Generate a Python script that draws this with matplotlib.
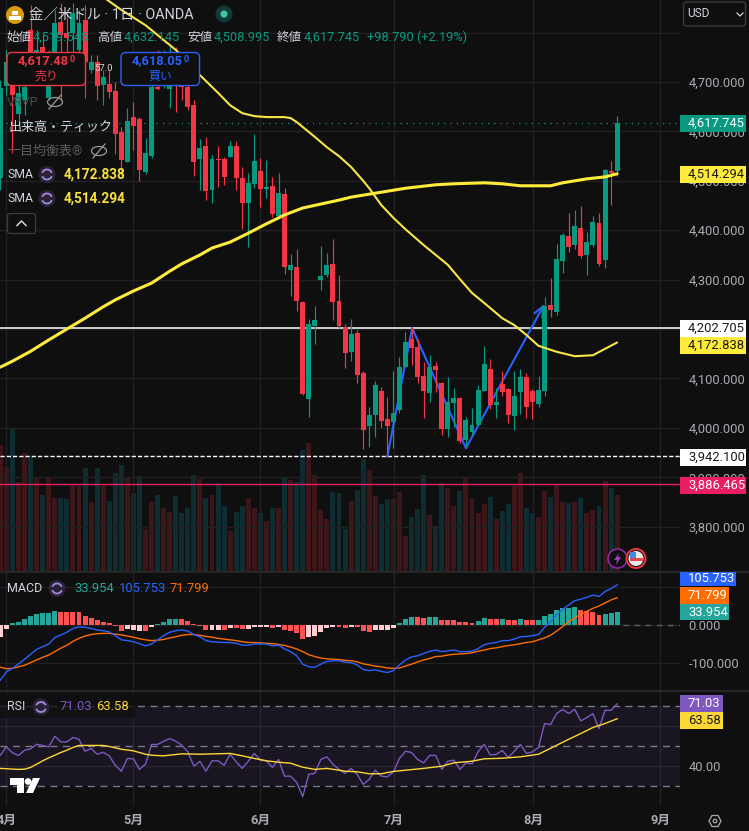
"""Gold / USD daily chart (OANDA): candles, volume, SMAs, MACD and RSI panels."""

import matplotlib

matplotlib.use("Agg")

import matplotlib.pyplot as plt
from matplotlib.patches import Arc, Circle, Ellipse, FancyBboxPatch, Polygon, Rectangle

plt.rcParams["font.family"] = ["Roboto", "Noto Sans CJK JP", "DejaVu Sans"]

# Candles, oldest first.
opens = [4506, 4692, 4694, 4635, 4664, 4805, 4714, 4771, 4668, 4755, 4821, 4799, 4799, 4765, 4826, 4724,
         4741, 4694, 4696, 4682, 4599, 4538, 4629, 4625, 4518, 4550, 4690, 4694, 4686, 4741, 4724, 4690,
         4653, 4544, 4570, 4481, 4544, 4544, 4548, 4570, 4506, 4455, 4494, 4520, 4483, 4490, 4429, 4473,
         4320, 4326, 4255, 4058, 4206, 4299, 4309, 4332, 4257, 4204, 4154, 4192, 4111, 4004, 4026, 4075,
         4018, 4012, 4036, 4123, 4180, 4164, 4105, 4071, 4125, 4091, 3998, 4050, 4060, 3975, 3992, 4006,
         4075, 4119, 4046, 4089, 4079, 4024, 4073, 4103, 4075, 4048, 4075, 4249, 4235, 4338, 4388, 4370,
         4405, 4350, 4370, 4415, 4340, 4520, 4519.545]
highs = [4704, 4765, 4745, 4714, 4745, 4856, 4805, 4795, 4765, 4846, 4860, 4846, 4860, 4846, 4856, 4755,
         4755, 4724, 4724, 4700, 4609, 4647, 4660, 4629, 4587, 4710, 4765, 4765, 4775, 4771, 4755, 4724,
         4664, 4585, 4589, 4552, 4570, 4548, 4581, 4581, 4528, 4516, 4595, 4546, 4542, 4508, 4516, 4485,
         4352, 4362, 4257, 4220, 4247, 4368, 4354, 4382, 4309, 4210, 4220, 4198, 4115, 4042, 4095, 4083,
         4062, 4115, 4143, 4194, 4202, 4180, 4133, 4147, 4133, 4093, 4103, 4081, 4062, 4022, 4040, 4087,
         4166, 4139, 4081, 4115, 4081, 4115, 4119, 4111, 4079, 4105, 4265, 4303, 4372, 4394, 4435, 4441,
         4449, 4396, 4429, 4435, 4524, 4540, 4632.145]
lows = [4481, 4674, 4556, 4609, 4633, 4694, 4694, 4704, 4664, 4745, 4664, 4745, 4734, 4724, 4668, 4718,
        4664, 4653, 4668, 4554, 4512, 4538, 4562, 4500, 4514, 4546, 4684, 4688, 4647, 4639, 4664, 4643,
        4510, 4481, 4461, 4455, 4488, 4492, 4548, 4481, 4402, 4366, 4485, 4447, 4465, 4427, 4425, 4311,
        4267, 4237, 4067, 4022, 4170, 4279, 4305, 4218, 4202, 4121, 4135, 4091, 3957, 3961, 3982, 4000,
        3941, 3959, 4030, 4121, 4127, 4091, 4020, 4052, 4073, 3986, 3982, 4002, 3969, 3961, 3986, 4006,
        4075, 4038, 4020, 4064, 4010, 3996, 4028, 4020, 4018, 4042, 4064, 4224, 4228, 4313, 4356, 4362,
        4344, 4309, 4366, 4328, 4324, 4451, 4508.995]
closes = [4688, 4740, 4674, 4678, 4690, 4755, 4765, 4724, 4745, 4819, 4795, 4789, 4840, 4819, 4741, 4741,
          4692, 4710, 4680, 4595, 4542, 4621, 4611, 4522, 4556, 4690, 4686, 4724, 4734, 4704, 4690, 4649,
          4538, 4566, 4479, 4544, 4542, 4508, 4570, 4506, 4455, 4496, 4540, 4483, 4488, 4433, 4475, 4326,
          4330, 4257, 4069, 4210, 4218, 4307, 4330, 4255, 4206, 4152, 4190, 4107, 3996, 4026, 4087, 4014,
          4004, 4030, 4123, 4174, 4162, 4103, 4075, 4123, 4117, 3998, 4052, 4060, 3973, 4016, 4006, 4077,
          4129, 4046, 4052, 4073, 4026, 4064, 4103, 4042, 4052, 4077, 4247, 4239, 4342, 4390, 4366, 4409,
          4348, 4376, 4417, 4332, 4522, 4516, 4617.745]

# Tick volume, no scale is shown in the picture so the unit is arbitrary.
volumes = [126, 104, 143, 89, 118, 114, 93, 76, 93, 73, 73, 72, 87, 85, 103, 69, 103, 85, 70, 98, 106, 94,
           78, 95, 42, 69, 76, 63, 59, 75, 58, 63, 96, 92, 73, 76, 88, 65, 40, 59, 65, 73, 63, 58, 50, 63,
           63, 93, 91, 89, 121, 128, 96, 61, 52, 79, 78, 42, 70, 81, 112, 101, 75, 67, 72, 72, 79, 35, 54,
           62, 96, 56, 45, 88, 83, 65, 80, 93, 73, 58, 67, 74, 52, 60, 67, 85, 98, 63, 58, 54, 80, 74, 87,
           69, 68, 69, 73, 58, 61, 65, 90, 83, 76]

sma_slow_x = [0, 2, 5, 8, 11, 14, 17, 19, 22, 25, 28, 30, 33, 35, 38, 41, 44, 47, 50, 53, 56, 58, 62, 67, 72, 75,
              80, 83, 86, 91, 93, 97, 100, 102]
sma_slow = [4123, 4135, 4155, 4178, 4200, 4222, 4245, 4259, 4277, 4293, 4317, 4332, 4350, 4364, 4376, 4394, 4413,
            4431, 4445, 4453, 4461, 4467, 4475, 4485, 4492, 4494, 4496, 4494, 4490, 4490, 4496, 4504, 4508, 4514.294]
sma_fast_x = [17, 20, 24, 27, 29, 31, 33, 36, 38, 40, 42, 44, 46, 47, 48, 49, 52, 54, 56, 58, 60, 61, 63, 65, 67,
              70, 72, 74, 76, 78, 80, 83, 85, 87, 89, 92, 95, 98, 100, 102]
sma_fast = [4872, 4846, 4815, 4785, 4765, 4741, 4714, 4678, 4653, 4637, 4631, 4629, 4629, 4629, 4627, 4619, 4589,
            4568, 4550, 4528, 4500, 4485, 4451, 4425, 4402, 4370, 4350, 4330, 4301, 4273, 4253, 4222, 4208, 4188,
            4166, 4154, 4145, 4147, 4160, 4172.838]

# Hand drawn blue path and horizontal levels.
path_x = [64, 68.1, 77]
path_y = [3942, 4202, 3959]
arrow_end = (90, 4251)
level_solid = 4202.705
level_dashed = 3942.1
level_pink = 3886.465
last_price = 4617.745

macd_hist = [-31, -10, 4, 9, 16, 24, 29, 31, 32, 37, 35, 35, 34, 34, 24, 18, 13, 8, 6, -2, -15, -10, -13, -15,
             -16, -4, 3, 9, 16, 16, 16, 11, 3, -2, -13, -13, -13, -13, -9, -9, -10, -10, -4, -4, -5, -8, -4,
             -13, -16, -22, -37, -31, -28, -19, -8, -6, -4, -7, -6, -6, -16, -18, -13, -13, -13, -7, 6, 15,
             21, 21, 18, 21, 21, 13, 13, 13, 8, 8, 5, 11, 18, 16, 16, 16, 13, 13, 16, 13, 13, 13, 24, 29, 39,
             45, 45, 47, 39, 37, 34, 26, 29, 32, 33.954]
# t = rising above zero, c = coral, p = pale (negative and recovering), ten bars per group
hist_kind = list("pptttttttt" "cccccccccc" "cpppcptttt" "cccccppcpc" "cppppcpccc" "cpppppccpc"
                 "ccpppptttc" "cttcccccct" "tcctcctcct" "ttttttcccc" "ttt")
macd_line = [-145, -123, -114, -102, -90, -77, -64, -57, -50, -33, -26, -19, -9, -5, -6, -9, -13, -15, -18, -28,
             -39, -41, -44, -49, -55, -50, -39, -28, -19, -15, -13, -16, -25, -31, -41, -44, -45, -46, -46, -48,
             -53, -53, -50, -50, -50, -55, -53, -63, -70, -81, -103, -110, -111, -103, -96, -94, -94, -98, -99,
             -105, -117, -120, -118, -122, -125, -120, -105, -92, -84, -81, -75, -69, -66, -70, -68, -66, -70,
             -70, -69, -62, -52, -48, -46, -41, -41, -37, -31, -30, -28, -25, -6, 9, 26, 41, 53, 64, 68, 73,
             79, 75, 88, 96, 105.753]
signal_line = [-111, -115, -114, -110, -106, -99, -92, -85, -79, -70, -61, -53, -43, -35, -29, -25, -23, -22, -22,
               -24, -26, -29, -32, -36, -39, -41, -40, -38, -34, -31, -27, -25, -25, -27, -30, -32, -35, -37,
               -39, -41, -44, -46, -46, -47, -48, -49, -51, -54, -58, -63, -70, -78, -83, -87, -89, -90, -91,
               -93, -94, -97, -102, -105, -108, -110, -113, -114, -113, -108, -103, -97, -92, -88, -83, -82,
               -79, -77, -76, -75, -73, -69, -66, -62, -60, -57, -54, -52, -49, -46, -44, -39, -34, -27, -16,
               -4, 9, 19, 28, 36, 44, 50, 58, 66, 71.799]

rsi_line = [45.3, 49.5, 46.5, 45.2, 47.8, 48.5, 50.8, 50.2, 49.5, 54.8, 52, 52, 54.2, 53.3, 47.3, 48.7, 45.8, 46.8,
            45, 40.3, 37.3, 43.7, 43.5, 38.2, 40.8, 50.7, 50.7, 52.3, 53.7, 52.3, 50.3, 47, 39.8, 42.2, 37.3, 42.5,
            42.5, 40.3, 45.8, 42, 38.7, 42.3, 46.2, 42.8, 42.5, 39.2, 43.2, 34.8, 34.8, 31.7, 24.5, 35.8, 36.2,
            43.2, 44.5, 40.8, 38.2, 36.2, 38.7, 35.7, 30.7, 33.2, 37.8, 34.8, 34.5, 37, 43.7, 47.3, 46.7, 43.2,
            41.5, 45.2, 45.2, 38.2, 42.3, 42.8, 38.2, 41.5, 41, 47, 50.8, 45.5, 45.7, 47.7, 44.2, 47.3, 50.7, 46.2,
            47, 49.2, 61.2, 60.7, 66.2, 68.3, 66.2, 68.3, 62.5, 64.2, 66.2, 58.7, 67.8, 67.8, 71.03]
rsi_ma_x = [0, 3, 4, 5, 6, 7, 8, 9, 10, 11, 12, 13, 16, 17, 18, 19, 20, 22, 24, 25, 27, 30, 33, 38, 40, 42, 44, 46,
            48, 50, 52, 54, 56, 57, 59, 61, 63, 65, 67, 70, 73, 75, 78, 80, 83, 86, 89, 92, 94, 96, 98, 100, 102]
rsi_ma = [38.7, 38.2, 38.3, 39.2, 40.8, 42.5, 44, 45.3, 46.7, 47.8, 49.2, 50.2, 50.2, 50.2, 49.7, 49, 48.3, 47.5,
          45.8, 45.3, 45, 46, 45.8, 46.2, 45, 43.7, 42.5, 41.8, 41.3, 39.3, 38.2, 38.7, 37.8, 37.3, 37, 36, 36,
          37.2, 37.8, 38.7, 39.8, 41.5, 42.3, 43.5, 43.8, 44.5, 45.8, 50.3, 53.3, 56.2, 59.2, 61.2, 63.58]

month_ticks = [1, 22, 43, 65.1, 88.1, 109.1]
month_labels = ["4月", "5月", "6月", "7月", "8月", "9月"]
price_ticks = [3800, 3900, 4000, 4100, 4200, 4300, 4400, 4500, 4600, 4700, 4800]
macd_ticks = [-100, 0, 100]
rsi_ticks = [40, 60]

BG = "#0f0f0f"
GRID = "#212121"
UP = "#089981"
DOWN = "#f23645"
TEXT = "#d1d4dc"
AXIS_TEXT = "#a8abb3"
WIDTH, HEIGHT = 749, 831
XLIM = (-0.066, 112.4)


def panel(top, bottom):
    """Axes over the chart area, given as pixel rows."""
    ax = fig.add_axes([0, 1 - bottom / HEIGHT, 680 / WIDTH, (bottom - top) / HEIGHT], facecolor=BG)
    ax.set_xlim(*XLIM)
    for spine in ax.spines.values():
        spine.set_visible(False)
    ax.yaxis.tick_right()
    ax.set_xticks(month_ticks)
    ax.tick_params(length=0, labelbottom=False, labelcolor=AXIS_TEXT, labelsize=9.4, pad=6)
    ax.grid(True, color=GRID, lw=1, zorder=0)
    ax.set_axisbelow(True)
    return ax


fig = plt.figure(figsize=(WIDTH / 100, HEIGHT / 100), dpi=100, facecolor=BG)

# Price panel
ax = panel(0, 571)
ax.set_ylim(3710.3, 4866)
ax.set_yticks(price_ticks)
ax.set_yticklabels([f"{p:,.3f}" if p < 4800 else "" for p in price_ticks])

idx = list(range(len(closes)))
rising = [c >= o for o, c in zip(opens, closes)]
candle_colors = [UP if r else DOWN for r in rising]
# this chart has volume colours the other way round from the candles
vol_colors = [(0.95, 0.21, 0.27, 0.2) if r else (0.06, 0.65, 0.72, 0.2) for r in rising]

vol_ax = ax.twinx()
vol_ax.set_ylim(0, 571)
vol_ax.set_axis_off()
vol_ax.bar(idx, volumes, width=0.82, color=vol_colors, linewidth=0)
ax.yaxis.tick_right()  # twinx moves the price ticks to the left

ax.set_zorder(vol_ax.get_zorder() + 1)
ax.patch.set_visible(False)
vol_ax.patch.set_visible(True)
vol_ax.patch.set_facecolor(BG)

ax.axhline(last_price, color=UP, lw=0.9, ls=(0, (1, 4)), zorder=2)
ax.axhline(level_solid, color="white", lw=1.1, zorder=2)
ax.axhline(level_dashed, color="white", lw=1.0, ls=(0, (3, 1.5)), zorder=2)
ax.axhline(level_pink, color="#e91e63", lw=1.0, zorder=2)

ax.plot(path_x, path_y, color="#2962ff", lw=1.5, zorder=3)
ax.annotate("", xy=arrow_end, xytext=(path_x[-1], path_y[-1]), zorder=3,
            arrowprops=dict(arrowstyle="->,head_length=0.75,head_width=0.32", color="#2962ff", lw=1.5,
                            shrinkA=0, shrinkB=0))

ax.vlines(idx, lows, highs, colors=candle_colors, lw=0.85, zorder=4)
ax.bar(idx, [abs(c - o) for o, c in zip(opens, closes)], bottom=[min(o, c) for o, c in zip(opens, closes)],
       width=0.82, color=candle_colors, linewidth=0, zorder=4)

ax.plot(sma_slow_x, sma_slow, color="#ffeb3b", lw=2.2, zorder=5, solid_capstyle="round")
ax.plot(sma_fast_x, sma_fast, color="#f7e645", lw=1.5, zorder=5, solid_capstyle="round")

# MACD panel
ax2 = panel(572, 690)
ax2.set_ylim(-171, 139.5)
ax2.set_yticks(macd_ticks)
ax2.set_yticklabels(["-100.000", "0.000", ""])
kind_colors = {"t": "#26a69a", "c": "#ff5252", "p": "#ffcdd2"}
ax2.bar(idx, macd_hist, width=0.82, color=[kind_colors[k] for k in hist_kind], linewidth=0, zorder=2)
ax2.plot([103, XLIM[1]], [0, 0], color="#5d606b", lw=1, ls=(0, (4, 4)), zorder=2)
ax2.plot(idx, signal_line, color="#ff6d00", lw=1.0, zorder=3)
ax2.plot(idx, macd_line, color="#2962ff", lw=1.0, zorder=4)

# RSI panel
ax3 = panel(691, 805.7)
ax3.set_ylim(20, 77.5)
ax3.set_yticks(rsi_ticks)
ax3.set_yticklabels(["40.00", ""])
ax3.axhspan(30, 70, color="#7e57c2", alpha=0.1, lw=0, zorder=1)
for level in (30, 50, 70):
    ax3.axhline(level, color="#787b86", lw=1, ls=(0, (5, 4)), zorder=2)
ax3.plot(idx, rsi_line, color="#7e57c2", lw=1.0, zorder=3)
ax3.plot(rsi_ma_x, rsi_ma, color="#fdd835", lw=1.0, zorder=4)
ax3.set_xticklabels(month_labels)
ax3.tick_params(axis="x", labelbottom=True, pad=6, labelsize=9.2)
for label_obj in ax3.get_xticklabels():
    label_obj.set_fontweight("bold")

# Pixel overlay for the legends, price tags and small icons.
ui = fig.add_axes([0, 0, 1, 1], facecolor="none")
ui.set_zorder(10)
ui.set_xlim(0, WIDTH)
ui.set_ylim(HEIGHT, 0)
ui.set_axis_off()


def label(x, y, text, color=TEXT, size=9.0, ha="left", weight="normal"):
    ui.text(x, y, text, color=color, fontsize=size, ha=ha, va="center", fontweight=weight, zorder=10)


def price_tag(y, h, right, text, bg, fg):
    ui.add_patch(Rectangle((680, y - h / 2), right - 680, h, facecolor=bg, edgecolor="none", zorder=9))
    label(688, y, text, fg, 9.4)


def refresh_icon(x, y):
    ui.add_patch(Circle((x, y), 8.5, facecolor="#2a2338", edgecolor="none", zorder=10))
    ui.add_patch(Arc((x, y), 10, 10, theta1=200, theta2=340, color="#a58be0", lw=1.3, zorder=11))
    ui.add_patch(Arc((x, y), 10, 10, theta1=20, theta2=160, color="#a58be0", lw=1.3, zorder=11))


def eye_off(x, y, color):
    ui.add_patch(Ellipse((x, y), 15, 9, facecolor="none", edgecolor=color, lw=0.9, zorder=10))
    ui.plot([x - 6, x + 6], [y + 7, y - 7], color=color, lw=0.9, zorder=10)


def trade_box(x0, edge, price, side):
    ui.add_patch(FancyBboxPatch((x0, 52.5), 78.5, 33, boxstyle="round,pad=0,rounding_size=5",
                                facecolor=BG, edgecolor=edge, lw=1.0, zorder=9))
    label(x0 + 11, 61, price, edge, 9.3, weight="bold")
    label(x0 + 63, 60, "0", edge, 6.6, weight="bold")
    label(x0 + 39, 76, side, edge, 8.6, ha="center")


# Symbol title
ui.add_patch(Circle((15, 15), 9, facecolor="#d99a0c", edgecolor="none", zorder=10))
ui.add_patch(Rectangle((9, 16), 12, 3.5, facecolor="white", zorder=11))
ui.add_patch(Rectangle((12, 11), 6, 3.5, facecolor="white", zorder=11))
label(29, 14.5, "金／米ドル · 1日 · OANDA", TEXT, 10.4)
ui.add_patch(Circle((224, 14), 8.5, facecolor="#123a36", edgecolor="none", zorder=10))
ui.add_patch(Circle((224, 14), 3.6, facecolor="#3fc2a8", edgecolor="none", zorder=11))

# OHLC row
for x, key, value in [(6, "始値", "4,519.545"), (97, "高値", "4,632.145"),
                      (187, "安値", "4,508.995"), (277, "終値", "4,617.745")]:
    label(x, 37.5, key, TEXT, 9.0)
    label(x + 27, 37.5, value, UP, 9.2)
label(367, 37.5, "+98.790 (+2.19%)", UP, 9.2)

trade_box(7, DOWN, "4,617.48", "売り")
trade_box(121, "#2962ff", "4,618.05", "買い")
label(94, 68.5, "57.0", "#d8d8d8", 6.8)

# Indicator legends
label(7, 102, "VRVP", "#4e4e4e", 9.0)
eye_off(55, 102, "#9a9a9a")
label(8, 127, "出来高・ティック", TEXT, 9.4)
label(7, 151, "一目均衡表®", "#5c5c5c", 9.4)
eye_off(99, 151, "#9a9a9a")
for y, value in [(174.5, "4,172.838"), (198.5, "4,514.294")]:
    label(7, y, "SMA", TEXT, 8.8)
    refresh_icon(47, y)
    label(64, y, value, "#f7e03c", 9.8, weight="bold")
ui.add_patch(FancyBboxPatch((7.5, 213.5), 28, 20, boxstyle="round,pad=0,rounding_size=2.5",
                            facecolor=BG, edgecolor="#3c3c3c", lw=0.9, zorder=9))
ui.plot([17, 21.5, 26], [225.5, 221, 225.5], color=TEXT, lw=1.1, zorder=10)

label(7, 588.5, "MACD", TEXT, 9.0)
refresh_icon(57, 588.5)
label(74, 588.5, "33.954", "#26a69a", 9.4)
label(119, 588.5, "105.753", "#2962ff", 9.4)
label(170, 588.5, "71.799", "#ff6d00", 9.4)

ui.add_patch(Rectangle((0, 693), 135, 25, facecolor=BG, alpha=0.75, edgecolor="none", zorder=8))
label(7, 707, "RSI", TEXT, 9.0)
refresh_icon(41, 707)
label(59, 707, "71.03", "#7e57c2", 9.4)
label(96, 707, "63.58", "#fdd835", 9.4)

# Right hand price tags
ui.add_patch(FancyBboxPatch((683.5, 2), 62, 24, boxstyle="round,pad=0,rounding_size=3",
                            facecolor=BG, edgecolor="#3c3c3c", lw=1, zorder=9))
label(687, 13.5, "USD", TEXT, 8.6)
ui.plot([737, 740, 743], [13, 16, 13], color=TEXT, lw=0.9, zorder=10)

price_tag(123, 17, 745.5, "4,617.745", UP, "white")
price_tag(174, 17, 745.5, "4,514.294", "#ffeb3b", "#1a1a1a")
price_tag(328, 17, 745.5, "4,202.705", "white", "#1a1a1a")
price_tag(345, 17, 745.5, "4,172.838", "#ffeb3b", "#1a1a1a")
price_tag(457, 17, 745.5, "3,942.100", "white", "#1a1a1a")
price_tag(485, 17, 745.5, "3,886.465", "#e91e63", "white")
price_tag(578.5, 14, 736, "105.753", "#2962ff", "white")
price_tag(595.5, 17, 729, "71.799", "#ff6d00", "white")
price_tag(612, 16, 729, "33.954", "#26a69a", "white")
price_tag(703.5, 17, 723, "71.03", "#7e57c2", "white")
price_tag(720.5, 17, 723, "63.58", "#fdd835", "#1a1a1a")

# Panel separators
ui.plot([0, WIDTH], [571.5, 571.5], color="#2b2b2b", lw=1.2, zorder=7)
ui.plot([0, WIDTH], [690.5, 690.5], color="#2b2b2b", lw=1.2, zorder=7)

# Event markers above the time axis
ui.add_patch(Circle((617.5, 558.5), 9.5, facecolor=BG, edgecolor="#9c27b0", lw=1.1, zorder=9))
ui.add_patch(Polygon([(619, 553), (614, 560), (617, 560), (616, 565), (621, 557), (618, 557)],
                     facecolor="#9c40c0", zorder=10))
ui.add_patch(Circle((636, 558.5), 9.5, facecolor=BG, edgecolor="#f23645", lw=1.4, zorder=9))
ui.add_patch(Circle((636, 558.5), 7.5, facecolor="#f0e6e6", edgecolor="none", zorder=10))
ui.add_patch(Rectangle((630, 558), 12.5, 2.6, facecolor="#e0474f", zorder=11))
ui.add_patch(Rectangle((630, 552), 6, 6, facecolor="#3f8fe0", zorder=11))

# Logo and settings icon
ui.add_patch(Polygon([(10, 778), (24, 778), (24, 793), (17, 793), (17, 784.5), (10, 784.5)],
                     facecolor="white", zorder=10))
ui.add_patch(Circle((28, 781.5), 3.3, facecolor="white", zorder=10))
ui.add_patch(Polygon([(33, 778), (40, 778), (33, 793), (26, 793)], facecolor="white", zorder=10))
ui.add_patch(Polygon([(709, 821), (712, 815.5), (718, 815.5), (721, 821), (718, 826.5), (712, 826.5)],
                     facecolor="none", edgecolor=AXIS_TEXT, lw=0.9, zorder=10))
ui.add_patch(Circle((715, 821), 1.8, facecolor="none", edgecolor=AXIS_TEXT, lw=0.9, zorder=10))

fig.savefig("out.png", dpi=100, facecolor=BG)
